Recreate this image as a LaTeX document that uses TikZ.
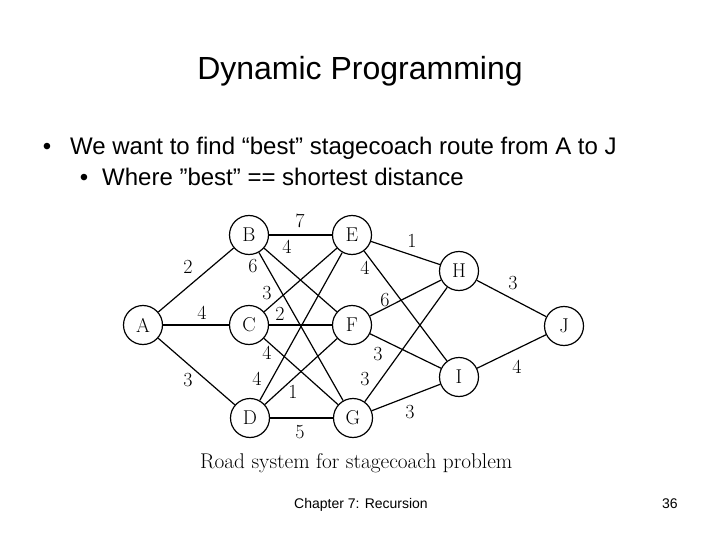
\documentclass[tikz,border=0pt]{standalone}
\usepackage{fontspec}
\newfontfamily\arial{Liberation Sans}
\newfontfamily\lmr{Latin Modern Roman}
\begin{document}
\begin{tikzpicture}[x=1pt,y=-1pt,
  vtx/.style={circle,draw,line width=1.2pt,minimum size=39pt,inner sep=0pt,font=\lmr\fontsize{20}{20}\selectfont},
  wt/.style={inner sep=0pt,font=\lmr\fontsize{20}{20}\selectfont},
  road/.style={line width=1.2pt},
  slide/.style={inner sep=0pt,font=\arial\fontsize{24}{28}\selectfont}]
\useasboundingbox (0,0) rectangle (720,540);
% slide text
\node[inner sep=0pt,anchor=base,font=\arial\fontsize{32}{38}\selectfont] (title) at (360,80) {Dynamic Programming};
\node[slide,anchor=base] (b1) at (47,155) {•};
\node[slide,anchor=base west] (t1) at (70,155) {We want to find “best” stagecoach route from A to J};
\node[slide,anchor=base] (b2) at (84,186) {•};
\node[slide,anchor=base west] (t2) at (102,186) {Where ”best” == shortest distance};
% vertices
\node[vtx] (A) at (143,325) {A};
\node[vtx] (B) at (249,235) {B};
\node[vtx] (C) at (249,325) {C};
\node[vtx] (D) at (250,418) {D};
\node[vtx] (E) at (352,235) {E};
\node[vtx] (F) at (352,325) {F};
\node[vtx] (G) at (353,418) {G};
\node[vtx] (H) at (459,271) {H};
\node[vtx] (I) at (459,377) {I};
\node[vtx] (J) at (564,326) {J};
% roads
\draw[road] (A) -- (B);
\draw[road] (A) -- (C);
\draw[road] (A) -- (D);
\draw[road] (B) -- (E);
\draw[road] (B) -- (F);
\draw[road] (B) -- (G);
\draw[road] (C) -- (E);
\draw[road] (C) -- (F);
\draw[road] (C) -- (G);
\draw[road] (D) -- (E);
\draw[road] (D) -- (F);
\draw[road] (D) -- (G);
\draw[road] (E) -- (H);
\draw[road] (E) -- (I);
\draw[road] (F) -- (H);
\draw[road] (F) -- (I);
\draw[road] (G) -- (H);
\draw[road] (G) -- (I);
\draw[road] (H) -- (J);
\draw[road] (I) -- (J);
% weights
\node[wt] (wAB) at (188,267) {2};
\node[wt] (wAC) at (202,313) {4};
\node[wt] (wAD) at (188,380) {3};
\node[wt] (wBE) at (300,221) {7};
\node[wt] (wBF) at (287,247) {4};
\node[wt] (wBG) at (253,266) {6};
\node[wt] (wCE) at (267,293) {3};
\node[wt] (wCF) at (280,314) {2};
\node[wt] (wCG) at (267,353) {4};
\node[wt] (wDE) at (257,379) {4};
\node[wt] (wDF) at (293,392) {1};
\node[wt] (wDG) at (300,432) {5};
\node[wt] (wEH) at (412,241) {1};
\node[wt] (wEI) at (365,268) {4};
\node[wt] (wFH) at (385,300) {6};
\node[wt] (wFI) at (378,354) {3};
\node[wt] (wGH) at (365,379) {3};
\node[wt] (wGI) at (410,412) {3};
\node[wt] (wHJ) at (513,283) {3};
\node[wt] (wIJ) at (517,367) {4};
% caption
\node[inner sep=0pt,anchor=base west,font=\lmr\fontsize{21.3}{22}\selectfont] (cap) at (200,468) {Road system for stagecoach problem};
% footer
\node[inner sep=0pt,anchor=base west,font=\arial\fontsize{14}{16}\selectfont] (foot) at (294,508) {Chapter 7: Recursion};
\node[inner sep=0pt,anchor=base west,font=\arial\fontsize{14}{16}\selectfont] (page) at (662,508) {36};
\end{tikzpicture}
\end{document}
